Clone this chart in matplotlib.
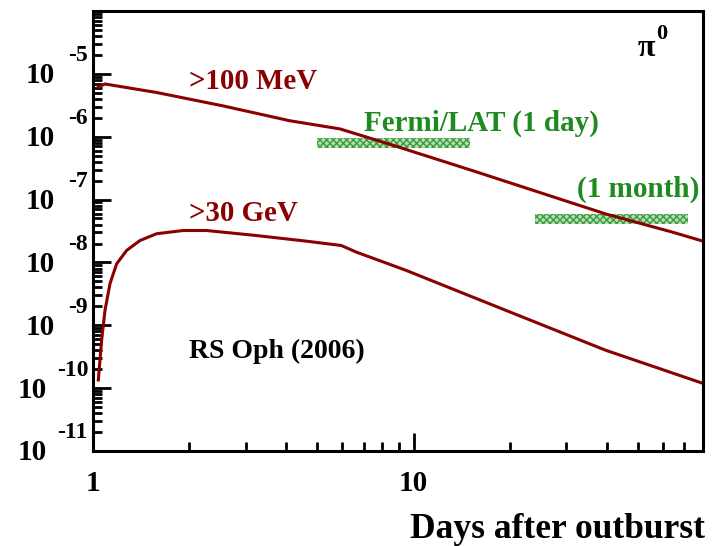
import numpy as np
import matplotlib
matplotlib.use("Agg")
import matplotlib.pyplot as plt
from matplotlib.ticker import LogLocator, NullFormatter, FixedLocator, FixedFormatter

# ── Light curves (pi0 decay gamma rays), days vs flux ──
days_100mev = [1.04, 1.09, 1.58, 2.54, 4.1, 5.9, 8.42, 15.3, 39.8, 64.3, 80.0]
flux_100mev = [6.2e-6, 6.9e-6, 5.05e-6, 3.1e-6, 1.8e-6, 1.33e-6, 7.6e-7,
               2.88e-7, 5.9e-8, 3.03e-8, 2.18e-8]

days_30gev = [1.039, 1.064, 1.09, 1.13, 1.185, 1.273, 1.401, 1.579, 1.911,
              2.26, 3.23, 4.63, 5.95, 6.63, 9.49, 19.4, 39.8, 80.0]
flux_30gev = [1.35e-10, 5.8e-10, 1.73e-9, 4.6e-9, 9.5e-9, 1.55e-8, 2.23e-8,
              2.86e-8, 3.22e-8, 3.22e-8, 2.68e-8, 2.18e-8, 1.86e-8, 1.46e-8,
              7.46e-9, 1.73e-9, 4.0e-10, 1.19e-10]

# Fermi/LAT sensitivity bands: (t_start, t_end, f_low, f_high)
lat_day = (5.0, 15.0, 6.6e-7, 9.5e-7)
lat_month = (24.0, 72.0, 4.16e-8, 6.0e-8)

decades = [-11, -10, -9, -8, -7, -6, -5]

RED = "#8b0000"
GREEN = "#1f8a1f"
SERIF = ["Liberation Serif", "DejaVu Serif"]

plt.rcParams["font.family"] = SERIF
plt.rcParams["font.weight"] = "bold"
plt.rcParams["hatch.linewidth"] = 1.0

fig = plt.figure(figsize=(7.15, 5.46), dpi=100)
ax = fig.add_axes([93 / 715, 1 - 451 / 546, 610 / 715, 440 / 546])
ax.set_xscale("log")
ax.set_yscale("log")
ax.set_xlim(1, 80)
ax.set_ylim(1e-11, 1e-4)

ax.plot(days_100mev, flux_100mev, color=RED, lw=2.2)
ax.plot(days_30gev, flux_30gev, color=RED, lw=2.2)

for t0, t1, lo, hi in (lat_day, lat_month):
    ax.fill_between([t0, t1], lo, hi, facecolor="#b5dfb5",
                    edgecolor="#3c9c3c", hatch="xxxxx", linewidth=0)

# frame and ticks
for sp in ax.spines.values():
    sp.set_linewidth(2.2)
ax.tick_params(which="both", direction="in", top=False, right=False,
               width=2.0)
ax.tick_params(which="major", length=13)
ax.tick_params(which="minor", length=6.5)

ax.xaxis.set_major_locator(FixedLocator([1, 10]))
ax.xaxis.set_major_formatter(FixedFormatter(["1", "10"]))
ax.xaxis.set_minor_locator(LogLocator(base=10, subs=np.arange(2, 10)))
ax.xaxis.set_minor_formatter(NullFormatter())
ax.tick_params(axis="x", which="major", pad=14, labelsize=21)

ax.yaxis.set_major_locator(FixedLocator([10.0 ** d for d in decades]))
ax.yaxis.set_major_formatter(NullFormatter())
ax.yaxis.set_minor_locator(LogLocator(base=10, subs=np.arange(2, 10),
                                      numticks=20))
ax.yaxis.set_minor_formatter(NullFormatter())

# y labels written as "10" with a raised exponent
for d in decades:
    wide = d <= -10
    ax.annotate("10", xy=(0, 10.0 ** d), xycoords=("axes fraction", "data"),
                xytext=(-46 if wide else -38, -2), textcoords="offset pixels",
                ha="right", va="center", fontsize=21, fontweight="bold")
    ax.annotate(str(d), xy=(0, 10.0 ** d), xycoords=("axes fraction", "data"),
                xytext=(-36 if wide else -25, 18), textcoords="offset pixels",
                ha="left", va="center", fontsize=17, fontweight="bold")

# annotations
ax.text(2.0, 5.8e-6, ">100 MeV", color=RED, fontsize=20.8, va="baseline")
ax.text(2.0, 4.5e-8, ">30 GeV", color=RED, fontsize=20.8, va="baseline")
ax.text(7.0, 1.25e-6, "Fermi/LAT (1 day)", color=GREEN, fontsize=21,
        va="baseline")
ax.text(32.4, 1.12e-7, "(1 month)", color=GREEN, fontsize=21,
        va="baseline")
ax.text(2.0, 3.0e-10, "RS Oph (2006)", color="black", fontsize=20,
        va="baseline")
ax.text(50.2, 1.93e-5, "\u03c0", color="black", fontsize=23, va="baseline")
ax.text(57.1, 3.6e-5, "0", color="black", fontsize=16, va="baseline")

fig.text(705 / 715, 1 - 538 / 546, "Days after outburst", ha="right",
         va="baseline", fontsize=25.5, fontweight="bold")

fig.savefig("out.png", dpi=100)
